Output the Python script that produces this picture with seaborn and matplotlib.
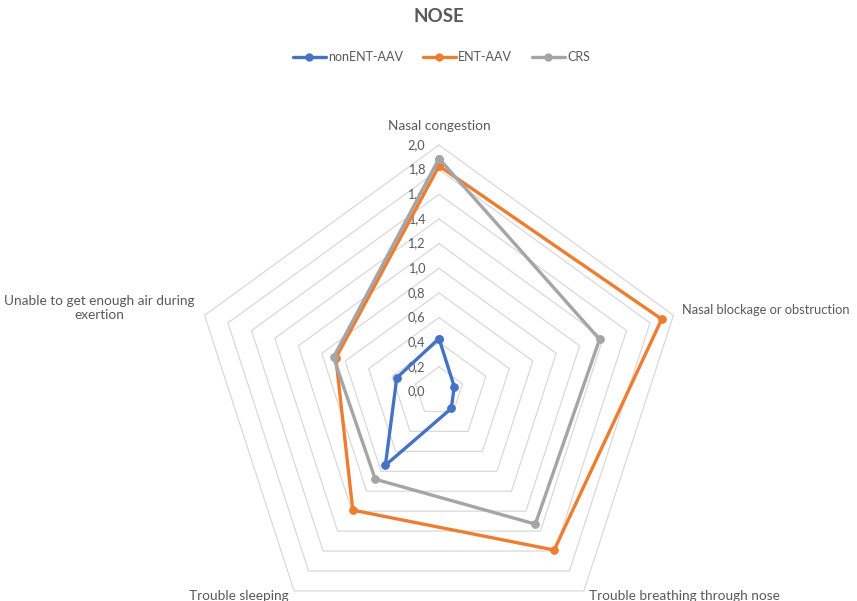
import numpy as np
import pandas as pd
import matplotlib
matplotlib.use("Agg")
import matplotlib.pyplot as plt
from matplotlib.lines import Line2D
import seaborn as sns

# data
categories = ["Nasal congestion", "Nasal blockage or obstruction",
              "Trouble breathing through nose", "Trouble sleeping",
              "Unable to get enough air during\nexertion"]
non_ent_aav = [0.43, 0.13, 0.17, 0.74, 0.36]
ent_aav = [1.83, 1.90, 1.59, 1.19, 0.88]
crs = [1.89, 1.37, 1.33, 0.88, 0.90]
series_names = ["nonENT-AAV", "ENT-AAV", "CRS"]
colors = ["#4472C4", "#ED7D31", "#A5A5A5"]
r_ticks = [0.0, 0.2, 0.4, 0.6, 0.8, 1.0, 1.2, 1.4, 1.6, 1.8, 2.0]

sns.set_style("white")
plt.rcParams["font.family"] = ["Lato", "DejaVu Sans"]
txt = "#595959"

n = len(categories)
theta = np.arange(n) * 2 * np.pi / n
theta_closed = np.append(theta, 2 * np.pi)

rows = []
for name, vals in zip(series_names, [non_ent_aav, ent_aav, crs]):
    for t, v in zip(theta_closed, vals + vals[:1]):
        rows.append({"theta": t, "value": v, "series": name})
df = pd.DataFrame(rows)

fig = plt.figure(figsize=(8.57, 6.01), dpi=100)
W, H = 857, 601
cx, cy, R = 439, 391.5, 246.5
ax = fig.add_axes([(cx - R) / W, (H - cy - R) / H, 2 * R / W, 2 * R / H],
                  projection="polar")
ax.set_theta_zero_location("N")
ax.set_theta_direction(-1)
ax.set_ylim(0, 2.0)
ax.grid(False)
ax.spines["polar"].set_visible(False)
ax.patch.set_alpha(0)

# pentagon gridlines
for r in r_ticks[1:]:
    ax.plot(theta_closed, [r] * (n + 1), color="#d9d9d9", lw=0.9,
            zorder=1, clip_on=False)

# radial value labels
for r in r_ticks:
    ax.annotate(f"{r:.1f}".replace(".", ","), xy=(0, r), xytext=(-10, 0),
                textcoords="offset points", ha="right", va="center",
                fontsize=9.2, color=txt, zorder=2, annotation_clip=False)

# data series
for name, col in zip(series_names, colors):
    sns.lineplot(data=df[df.series == name], x="theta", y="value", ax=ax,
                 color=col, lw=2.4, marker="o", markersize=5.5,
                 markeredgecolor=col, sort=False, zorder=3, clip_on=False)
ax.set_xlabel("")
ax.set_ylabel("")
ax.set_xticks([])
ax.set_yticks([])

# category labels
label_pos = [((0, 14), "center", 9.8),
             ((6, 4), "left", 9.3),
             ((4, -4), "left", 9.8),
             ((-4, -4), "right", 9.8),
             ((-7, 5), "right", 9.8)]
for t, lab, (off, ha, fs) in zip(theta, categories, label_pos):
    ax.annotate(lab, xy=(t, 2.0), xytext=off, textcoords="offset points",
                ha=ha, va="center", multialignment="center", fontsize=fs,
                color=txt, annotation_clip=False)

fig.suptitle("NOSE", x=cx / W, y=1 - 8 / H, va="top", fontsize=13.5,
             fontweight="bold", color=txt)

handles = [Line2D([], [], color=c, lw=2.4, marker="o", markersize=5)
           for c in colors]
fig.legend(handles, series_names, loc="center", bbox_to_anchor=(cx / W + 0.003, 1 - 57 / H),
           ncol=3, frameon=False, fontsize=9, labelcolor=txt,
           handlelength=2.6, handletextpad=0.2, columnspacing=1.6)

fig.savefig("out.png", dpi=100, facecolor="white")
